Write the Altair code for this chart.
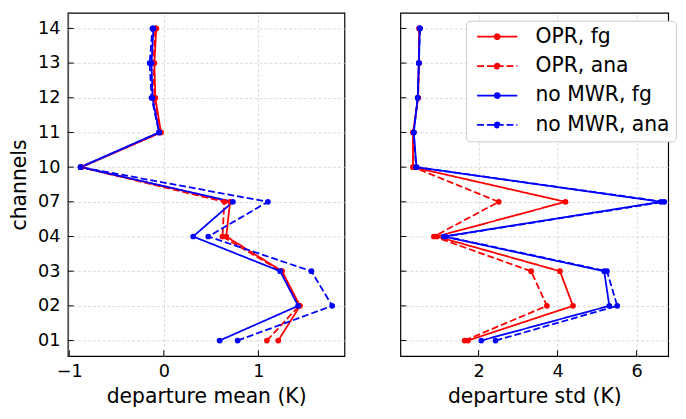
import altair as alt
import pandas as pd

channels = ["01", "02", "03", "04", "07", "10", "11", "12", "13", "14"]
series_names = ["OPR, fg", "OPR, ana", "no MWR, fg", "no MWR, ana"]
series_colors = ["#ff0000", "#ff0000", "#0000ff", "#0000ff"]
series_dash = [[1, 0], [7, 3], [1, 0], [7, 3]]

# departure mean (K)
mean_opr_fg = [1.21, 1.44, 1.25, 0.66, 0.70, -0.87, -0.03, -0.09, -0.10, -0.08]
mean_opr_ana = [1.09, 1.43, 1.24, 0.62, 0.64, -0.88, -0.04, -0.10, -0.11, -0.09]
mean_nomwr_fg = [0.59, 1.42, 1.23, 0.31, 0.73, -0.88, -0.05, -0.12, -0.13, -0.11]
mean_nomwr_ana = [0.78, 1.78, 1.56, 0.47, 1.10, -0.88, -0.05, -0.13, -0.15, -0.12]

# departure std (K)
std_opr_fg = [1.73, 4.39, 4.06, 0.94, 4.20, 0.34, 0.34, 0.47, 0.49, 0.50]
std_opr_ana = [1.65, 3.73, 3.33, 0.87, 2.51, 0.35, 0.35, 0.47, 0.49, 0.50]
std_nomwr_fg = [2.07, 5.31, 5.18, 1.12, 6.62, 0.43, 0.36, 0.46, 0.49, 0.51]
std_nomwr_ana = [2.43, 5.51, 5.25, 1.16, 6.70, 0.42, 0.36, 0.46, 0.49, 0.52]

mean_ticks = [-1, 0, 1]
std_ticks = [2, 4, 6]


def long_df(lists):
    rows = []
    for name, vals in zip(series_names, lists):
        for i, (c, v) in enumerate(zip(channels, vals)):
            rows.append({"series": name, "channel": c, "idx": i, "value": v})
    return pd.DataFrame(rows)


mean_df = long_df([mean_opr_fg, mean_opr_ana, mean_nomwr_fg, mean_nomwr_ana])
std_df = long_df([std_opr_fg, std_opr_ana, std_nomwr_fg, std_nomwr_ana])

H = 350
W_LEFT = 282
W_RIGHT = 273
yscale = alt.Scale(type="point", domain=channels[::-1], padding=0.45)
cscale = alt.Scale(domain=series_names, range=series_colors)
dscale = alt.Scale(domain=series_names, range=series_dash)

# legend glyph: a line with a dot in the middle (unit = sqrt(size)/2)
legend_symbol = ("M-1,0L7,0"
                 "M2.5,0A0.5,0.5,0,1,1,3.5,0A0.5,0.5,0,1,1,2.5,0"
                 "M2.8,0A0.2,0.2,0,1,1,3.2,0A0.2,0.2,0,1,1,2.8,0")


def panel(df, xdom, xticks, xtitle, W, show_y, with_legend):
    xs = alt.Scale(domain=xdom, nice=False, zero=False)
    if show_y:
        yaxis = alt.Axis(title="channels", ticks=False, grid=True,
                         labelPadding=8, titlePadding=8)
    else:
        yaxis = alt.Axis(title=None, labels=False, ticks=False, grid=True)
    if with_legend:
        leg = alt.Legend(orient="none", legendX=W - 206, legendY=8, title=None,
                         symbolType=legend_symbol, symbolSize=105,
                         symbolStrokeWidth=1.8, labelFontSize=20.7,
                         labelFont="DejaVu Sans", labelColor="black",
                         strokeColor="#cccccc", fillColor="white",
                         padding=6, cornerRadius=4, rowPadding=8,
                         labelOffset=44)
    else:
        leg = None
    base = alt.Chart(df)
    x = alt.X("value:Q", scale=xs,
              axis=alt.Axis(values=xticks, format="d", title=xtitle, ticks=False,
                            labelPadding=7, titlePadding=6))
    y = alt.Y("channel:O", scale=yscale, axis=yaxis)
    lines = base.mark_line(strokeWidth=1.8).encode(
        x=x, y=y,
        color=alt.Color("series:N", scale=cscale, legend=leg),
        strokeDash=alt.StrokeDash("series:N", scale=dscale, legend=leg),
        order=alt.Order("idx:Q"),
    )
    pts = base.mark_circle(size=34, opacity=1).encode(
        x=alt.X("value:Q", scale=xs),
        y=alt.Y("channel:O", scale=yscale),
        fill=alt.Fill("series:N", scale=cscale, legend=None),
    )
    ytick = alt.Chart(pd.DataFrame({"channel": channels})).mark_rule(
        color="black", strokeWidth=1).encode(
        y=alt.Y("channel:O", scale=yscale), x=alt.value(0), x2=alt.value(6))
    xtick = alt.Chart(pd.DataFrame({"value": xticks})).mark_rule(
        color="black", strokeWidth=1).encode(
        x=alt.X("value:Q", scale=xs), y=alt.value(H), y2=alt.value(H - 6))
    return alt.layer(lines, pts, ytick, xtick).properties(width=W, height=H)


left = panel(mean_df, [-1.015, 1.91], mean_ticks, "departure mean (K)", W_LEFT, True, False)
right = panel(std_df, [0.022, 6.80], std_ticks, "departure std (K)", W_RIGHT, False, True)

chart = alt.hconcat(left, right, spacing=54, padding=0).resolve_legend(
    color="independent", strokeDash="independent", fill="independent"
).configure_view(
    stroke="black", strokeWidth=1.2
).configure_axis(
    labelFont="DejaVu Sans", titleFont="DejaVu Sans", labelFontSize=18,
    titleFontSize=20.7, labelColor="black", titleColor="black",
    titleFontWeight="normal", domain=False, gridColor="#cfcfcf",
    gridDash=[3, 2], gridWidth=0.8,
)

chart.save("out.html", embed_options={"renderer": "svg", "actions": False})
